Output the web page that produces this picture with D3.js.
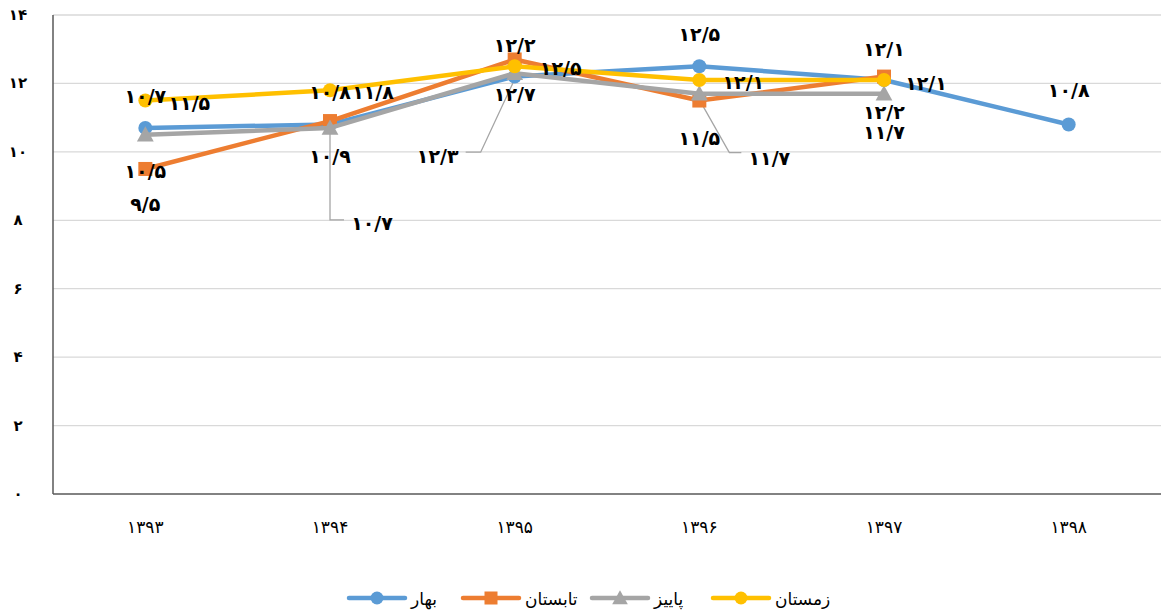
<!DOCTYPE html>
<html>
<head>
<meta charset="utf-8">
<script src="https://cdn.jsdelivr.net/npm/d3@7"></script>
<style>
  body { margin: 0; background: #fff; }
  text { font-family: "DejaVu Sans", sans-serif; }
</style>
</head>
<body>
<div id="chart"></div>
<script>
// years on the x axis
var years = ['1393', '1394', '1395', '1396', '1397', '1398'];
var yTicks = [0, 2, 4, 6, 8, 10, 12, 14];

// series values (null = no data)
var bahar = [10.7, 10.8, 12.2, 12.5, 12.1, 10.8];
var tabestan = [9.5, 10.9, 12.7, 11.5, 12.2, null];
var paeez = [10.5, 10.7, 12.3, 11.7, 11.7, null];
var zemestan = [11.5, 11.8, 12.5, 12.1, 12.1, null];

var seriesNames = ['بهار', 'تابستان', 'پاییز', 'زمستان'];
var seriesColors = ['#5b9bd5', '#ed7d31', '#a5a5a5', '#ffc000'];
var seriesMarkers = ['circle', 'square', 'triangle', 'circle'];

// where each series puts its value labels, relative to the point
var labelPlace = [
    [[0, -32], [0, -32], [0, -32], [0, -32], [0, -31], [0, -34]],
    [[0, 35], [0, 35], [0, 35], [0, 37], [0, 35]],
    [[0, 36], [42, 95], [-77, 83], [70, 64], [0, 38]],
    [[44, 2], [43, 2], [46, 2], [44, 2], [42, 3]]
];

var width = 1163, height = 615;
var margin = { top: 15, right: 2, bottom: 121, left: 53 };

var faDigits = '۰۱۲۳۴۵۶۷۸۹';
function fa(s) {
    return String(s).replace(/[0-9]/g, function (d) { return faDigits[+d]; }).replace('.', '/');
}

var svg = d3.select('#chart').append('svg')
    .attr('width', width)
    .attr('height', height);

var x = d3.scaleBand()
    .domain(years)
    .range([margin.left, width - margin.right]);

var y = d3.scaleLinear()
    .domain([0, 14])
    .range([height - margin.bottom, margin.top]);

var cx = function (i) { return x(years[i]) + x.bandwidth() / 2; };

// gridlines
svg.append('g')
    .selectAll('line')
    .data(yTicks.slice(1))
    .enter().append('line')
    .attr('x1', margin.left)
    .attr('x2', width - margin.right)
    .attr('y1', function (d) { return y(d); })
    .attr('y2', function (d) { return y(d); })
    .attr('stroke', '#d9d9d9')
    .attr('stroke-width', 1.3);

// y axis labels
svg.append('g')
    .selectAll('text')
    .data(yTicks)
    .enter().append('text')
    .attr('x', 18)
    .attr('y', function (d) { return y(d) + 5; })
    .attr('text-anchor', 'middle')
    .style('font-size', '15px')
    .style('font-weight', 'bold')
    .text(function (d) { return fa(d); });

// axis lines
svg.append('line')
    .attr('x1', margin.left).attr('x2', margin.left)
    .attr('y1', y(14)).attr('y2', y(0))
    .attr('stroke', '#595959').attr('stroke-width', 1.5);
svg.append('line')
    .attr('x1', margin.left).attr('x2', width - margin.right)
    .attr('y1', y(0)).attr('y2', y(0))
    .attr('stroke', '#595959').attr('stroke-width', 1.5);

// x axis labels
svg.append('g')
    .selectAll('text')
    .data(years)
    .enter().append('text')
    .attr('x', function (d) { return x(d) + x.bandwidth() / 2; })
    .attr('y', 533)
    .attr('text-anchor', 'middle')
    .style('font-size', '17px')
    .text(function (d) { return fa(d); });

var allSeries = [bahar, tabestan, paeez, zemestan];

function drawMarker(g, type, color, px, py, r) {
    if (type === 'circle') {
        g.append('circle').attr('cx', px).attr('cy', py).attr('r', r).attr('fill', color);
    } else if (type === 'square') {
        g.append('rect').attr('x', px - r).attr('y', py - r)
            .attr('width', r * 2).attr('height', r * 2).attr('fill', color);
    } else {
        var s = r * 1.2;
        g.append('path')
            .attr('d', 'M' + px + ',' + (py - s) + 'L' + (px + s) + ',' + (py + s * 0.8) + 'L' + (px - s) + ',' + (py + s * 0.8) + 'Z')
            .attr('fill', color);
    }
}

var line = d3.line()
    .defined(function (d) { return d != null; })
    .x(function (d, i) { return cx(i); })
    .y(function (d) { return y(d); });

// leader lines go under the series
var leaderG = svg.append('g');

allSeries.forEach(function (data, s) {
    var g = svg.append('g');
    g.append('path')
        .datum(data)
        .attr('d', line)
        .attr('fill', 'none')
        .attr('stroke', seriesColors[s])
        .attr('stroke-width', 4.5)
        .attr('stroke-linejoin', 'round')
        .attr('stroke-linecap', 'round');
    data.forEach(function (v, i) {
        if (v == null) return;
        drawMarker(g, seriesMarkers[s], seriesColors[s], cx(i), y(v), 7);
    });
});

// value labels
var labelG = svg.append('g');
allSeries.forEach(function (data, s) {
    data.forEach(function (v, i) {
        if (v == null) return;
        var off = labelPlace[s][i];
        var px = cx(i), py = y(v);
        var lx = px + off[0], ly = py + off[1];
        // paeez labels pushed away get a leader line back to the point
        if (s === 2 && (i === 1 || i === 2 || i === 3)) {
            var path;
            if (i === 1) {
                path = 'M' + px + ',' + (py + 6) + 'L' + px + ',' + (ly - 3) + 'L' + (lx - 28) + ',' + (ly - 3);
            } else if (i === 2) {
                path = 'M' + px + ',' + (py + 6) + 'L' + (lx + 43) + ',' + (ly - 4) + 'L' + (lx + 28) + ',' + (ly - 4);
            } else {
                path = 'M' + px + ',' + (py + 6) + 'L' + (lx - 40) + ',' + (ly - 5) + 'L' + (lx - 28) + ',' + (ly - 5);
            }
            leaderG.append('path')
                .attr('d', path)
                .attr('fill', 'none')
                .attr('stroke', '#a5a5a5')
                .attr('stroke-width', 1.3);
        }
        labelG.append('text')
            .attr('x', lx)
            .attr('y', ly + 7)
            .attr('text-anchor', 'middle')
            .style('font-size', '19px')
            .style('font-weight', 'bold')
            .text(fa(v));
    });
});

// legend: line with marker, then the name
var legendX = [349, 463, 592, 713];
var legend = svg.append('g');
seriesNames.forEach(function (name, s) {
    var lx = legendX[s];
    legend.append('line')
        .attr('x1', lx).attr('x2', lx + 56)
        .attr('y1', 598).attr('y2', 598)
        .attr('stroke', seriesColors[s])
        .attr('stroke-width', 4.5)
        .attr('stroke-linecap', 'round');
    drawMarker(legend, seriesMarkers[s], seriesColors[s], lx + 28, 598, 6.5);
    legend.append('text')
        .attr('x', lx + 62)
        .attr('y', 605)
        .attr('text-anchor', 'start')
        .style('font-size', '17px')
        .text(name);
});
</script>
</body>
</html>
